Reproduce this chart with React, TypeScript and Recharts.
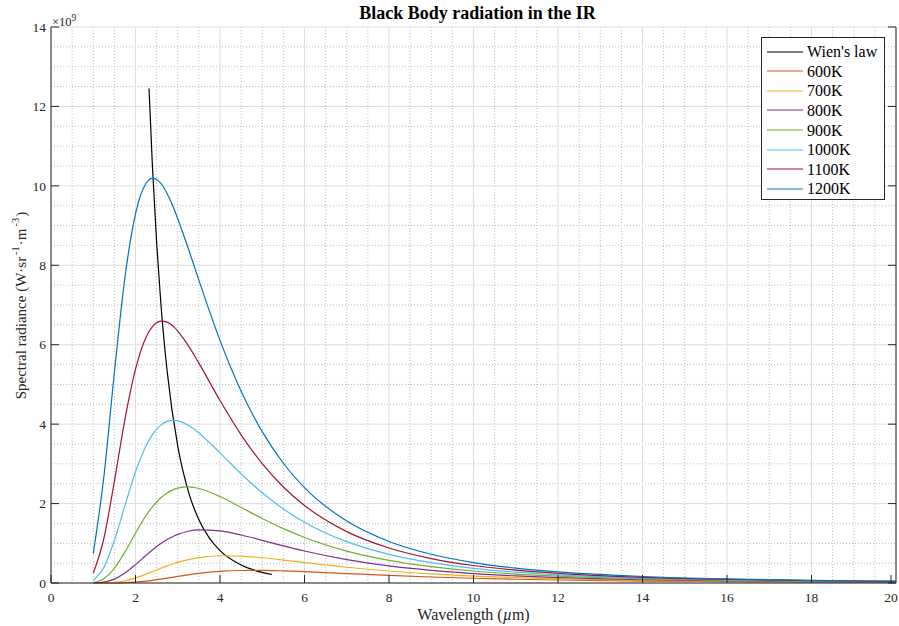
import React from "react";
import { LineChart, Line, XAxis, YAxis, CartesianGrid, Legend, ReferenceLine } from "recharts";

// wavelength in micrometres, radiance in units of 1e9 W·sr^-1·m^-3
const wavelengths = [1, 1.25, 1.5, 1.75, 2, 2.25, 2.4, 2.5, 2.6, 2.75, 2.9, 3, 3.25, 3.5, 4, 4.5, 5, 5.5, 6, 7, 8, 9, 10, 11, 12, 14, 16, 18, 20];

const k600 = [0.0, 0.0002, 0.0018, 0.0081, 0.0231, 0.0486, 0.0684, 0.0833, 0.099, 0.1237, 0.1489, 0.1656, 0.2054, 0.2403, 0.2905, 0.3145, 0.3175, 0.3062, 0.2867, 0.2382, 0.191, 0.151, 0.1191, 0.0943, 0.0751, 0.0487, 0.0327, 0.0226, 0.0161];
const k700 = [0.0001, 0.0028, 0.0176, 0.0575, 0.1281, 0.2226, 0.2855, 0.3277, 0.37, 0.4302, 0.4855, 0.5193, 0.59, 0.6401, 0.6861, 0.677, 0.6352, 0.5775, 0.515, 0.3971, 0.3015, 0.2288, 0.1749, 0.135, 0.1053, 0.0663, 0.0435, 0.0296, 0.0207];
const k800 = [0.0018, 0.022, 0.0973, 0.2497, 0.4625, 0.698, 0.8327, 0.9167, 0.9941, 1.0955, 1.1789, 1.224, 1.3027, 1.3377, 1.3118, 1.2082, 1.0739, 0.9347, 0.8048, 0.5877, 0.4292, 0.3163, 0.2363, 0.1791, 0.1377, 0.0847, 0.0547, 0.0367, 0.0255];
const k900 = [0.0136, 0.1088, 0.3688, 0.7823, 1.257, 1.697, 1.9169, 2.04, 2.1453, 2.269, 2.3524, 2.388, 2.418, 2.3786, 2.1767, 1.9033, 1.624, 1.368, 1.1467, 0.8039, 0.57, 0.411, 0.3018, 0.2256, 0.1716, 0.1038, 0.0662, 0.0441, 0.0304];
const k1000 = [0.0672, 0.3914, 1.0707, 1.95, 2.7976, 3.455, 3.7355, 3.874, 3.976, 4.068, 4.0955, 4.083, 3.973, 3.779, 3.277, 2.75, 2.2722, 1.866, 1.5318, 1.0405, 0.7212, 0.5111, 0.3704, 0.274, 0.2066, 0.1234, 0.0779, 0.0515, 0.0353];
const k1100 = [0.2485, 1.114, 2.561, 4.122, 5.384, 6.191, 6.454, 6.551, 6.592, 6.569, 6.456, 6.344, 5.977, 5.536, 4.595, 3.7315, 3.0055, 2.4183, 1.9526, 1.2932, 0.8803, 0.6154, 0.4413, 0.3237, 0.2424, 0.1433, 0.0898, 0.059, 0.0403];
const k1200 = [0.739, 2.664, 5.3, 7.689, 9.295, 10.065, 10.187, 10.161, 10.06, 9.802, 9.448, 9.173, 8.423, 7.625, 6.1095, 4.831, 3.8104, 3.0155, 2.4026, 1.5592, 1.0457, 0.7231, 0.5141, 0.3746, 0.2789, 0.1634, 0.1018, 0.0666, 0.0453];

// peak positions (Wien's displacement law)
const wienLambda = [2.32, 2.4, 2.5, 2.6, 2.75, 3, 3.25, 3.5, 3.75, 4, 4.5, 5, 5.23];
const wienPeak = [12.45, 10.51, 8.571, 7.045, 5.322, 3.444, 2.308, 1.594, 1.129, 0.817, 0.454, 0.268, 0.214];

const xTicks = [0, 2, 4, 6, 8, 10, 12, 14, 16, 18, 20];
const yTicks = [0, 2, 4, 6, 8, 10, 12, 14];

const series = [
    { key: "k600", name: "600K", color: "#D95319", values: k600 },
    { key: "k700", name: "700K", color: "#EDB120", values: k700 },
    { key: "k800", name: "800K", color: "#7E2F8E", values: k800 },
    { key: "k900", name: "900K", color: "#77AC30", values: k900 },
    { key: "k1000", name: "1000K", color: "#4DBEEE", values: k1000 },
    { key: "k1100", name: "1100K", color: "#A2142F", values: k1100 },
    { key: "k1200", name: "1200K", color: "#0072BD", values: k1200 },
];
const legendOrder = ["Wien's law", ...series.map((s) => s.name)];

const rows = wavelengths.map((x, i) => {
    const row: Record<string, number> = { x };
    series.forEach((s) => {
        row[s.key] = s.values[i];
    });
    return row;
});
const wienRows = wienLambda.map((x, i) => ({ x, wien: wienPeak[i] }));

const FONT = "'Liberation Serif', 'Times New Roman', serif";
const AXIS = "#262626";
const TICK_LEN = 8;
const TICK_FONT = 13.5;
const CHART_W = 899;
const MARGIN_RIGHT = 3;
const PLOT_RIGHT = CHART_W - MARGIN_RIGHT;

const BottomTick = (props: any) => {
    const { x, y, payload } = props;
    return (
        <g>
            <line x1={x} x2={x} y1={y - 8} y2={y - 8 - TICK_LEN} stroke={AXIS} />
            <text x={x} y={y} dy="0.78em" textAnchor="middle" fill={AXIS} fontSize={TICK_FONT} fontFamily={FONT}>
                {payload.value}
            </text>
        </g>
    );
};

// left labels + inward ticks on both the left and the right edge
const LeftTick = (props: any) => {
    const { x, y, payload } = props;
    return (
        <g>
            <line x1={x + 5} x2={x + 5 + TICK_LEN} y1={y} y2={y} stroke={AXIS} />
            <line x1={PLOT_RIGHT} x2={PLOT_RIGHT - TICK_LEN} y1={y} y2={y} stroke={AXIS} />
            <text x={x} y={y} dy="0.35em" textAnchor="end" fill={AXIS} fontSize={TICK_FONT} fontFamily={FONT}>
                {payload.value}
            </text>
        </g>
    );
};

const TopTick = (props: any) => {
    const { x, y } = props;
    return <line x1={x} x2={x} y1={y} y2={y + TICK_LEN} stroke={AXIS} />;
};

// minor grid every 0.5 units, skipping the major lines
const minorX = ({ offset }: any) => {
    const out: number[] = [];
    for (let k = 1; k < 40; k++) if (k % 4 !== 0) out.push(offset.left + (offset.width * k) / 40);
    return out;
};
const minorY = ({ offset }: any) => {
    const out: number[] = [];
    for (let k = 1; k < 28; k++) if (k % 4 !== 0) out.push(offset.top + (offset.height * k) / 28);
    return out;
};

const renderLegend = (props: any) => {
    const items = [...(props.payload || [])].sort(
        (a: any, b: any) => legendOrder.indexOf(a.value) - legendOrder.indexOf(b.value)
    );
    return (
        <div
            style={{
                border: `1px solid ${AXIS}`,
                background: "#fff",
                padding: "4px 0 0 0",
                width: 122,
                height: 157,
                boxSizing: "content-box",
                fontFamily: FONT,
                fontSize: 16,
                color: "#000",
            }}
        >
            {items.map((entry: any) => (
                <div key={entry.value} style={{ display: "flex", alignItems: "center", height: 19.57 }}>
                    <svg width={45} height={6} style={{ flex: "none" }}>
                        <line x1={5} x2={41} y1={3} y2={3} stroke={entry.color} strokeWidth={1.2} />
                    </svg>
                    <span style={{ lineHeight: "19px" }}>{entry.value}</span>
                </div>
            ))}
        </div>
    );
};

const supStyle: React.CSSProperties = { fontSize: 10.5, verticalAlign: "7px", margin: "0 1px 0 2px" };

const App = () => {
    return (
        <div style={{ position: "absolute", left: 0, top: 0, width: 899, height: 626, background: "#fff", fontFamily: FONT }}>
            <LineChart width={CHART_W} height={626} data={rows} margin={{ top: 27, right: MARGIN_RIGHT, bottom: 13, left: 8 }}>
                <CartesianGrid
                    stroke="#bdbdbd"
                    strokeDasharray="1 2"
                    verticalCoordinatesGenerator={minorX}
                    horizontalCoordinatesGenerator={minorY}
                />
                <CartesianGrid stroke="#dedede" />
                <XAxis
                    dataKey="x"
                    type="number"
                    domain={[0, 20]}
                    ticks={xTicks}
                    height={30}
                    tickSize={0}
                    tickMargin={8}
                    tick={<BottomTick />}
                    axisLine={{ stroke: AXIS }}
                    tickLine={false}
                />
                <XAxis
                    xAxisId="top"
                    orientation="top"
                    dataKey="x"
                    type="number"
                    domain={[0, 20]}
                    ticks={xTicks}
                    height={0}
                    tickSize={0}
                    tickMargin={0}
                    tick={<TopTick />}
                    axisLine={{ stroke: AXIS }}
                    tickLine={false}
                />
                <YAxis
                    domain={[0, 14]}
                    ticks={yTicks}
                    width={43}
                    tickSize={0}
                    tickMargin={5}
                    tick={<LeftTick />}
                    axisLine={{ stroke: AXIS }}
                    tickLine={false}
                />
                <ReferenceLine x={20} stroke={AXIS} ifOverflow="visible" />
                <Line
                    data={wienRows}
                    dataKey="wien"
                    name="Wien's law"
                    type="monotone"
                    stroke="#000000"
                    strokeWidth={1.2}
                    dot={false}
                    activeDot={false}
                    isAnimationActive={false}
                />
                {series.map((s) => (
                    <Line
                        key={s.key}
                        dataKey={s.key}
                        name={s.name}
                        type="monotone"
                        stroke={s.color}
                        strokeWidth={1.2}
                        dot={false}
                        activeDot={false}
                        isAnimationActive={false}
                    />
                ))}
                <Legend
                    layout="vertical"
                    align="center"
                    verticalAlign="middle"
                    content={renderLegend}
                    wrapperStyle={{ position: "absolute", left: 761, top: 37, width: "auto", height: "auto" }}
                />
            </LineChart>

            {/* Title */}
            <div
                style={{
                    position: "absolute",
                    left: 55,
                    width: 845,
                    top: 4,
                    textAlign: "center",
                    fontWeight: "bold",
                    fontSize: 18,
                    color: "#000",
                    lineHeight: "18px",
                    whiteSpace: "nowrap",
                }}
            >
                Black Body radiation in the IR
            </div>

            {/* Exponent */}
            <div style={{ position: "absolute", left: 52, top: 11, fontSize: 12.5, color: AXIS, lineHeight: "14px", whiteSpace: "nowrap" }}>
                ×10<sup style={{ fontSize: 9.5, verticalAlign: "5px" }}>9</sup>
            </div>

            {/* X label */}
            <div
                style={{
                    position: "absolute",
                    left: 51,
                    width: 845,
                    top: 606,
                    textAlign: "center",
                    fontSize: 16,
                    color: AXIS,
                    lineHeight: "18px",
                }}
            >
                Wavelength (<i>µ</i>m)
            </div>

            {/* Y label */}
            <div
                style={{
                    position: "absolute",
                    left: 10,
                    top: 27,
                    width: 18,
                    height: 556,
                    display: "flex",
                    alignItems: "center",
                    justifyContent: "center",
                }}
            >
                <div
                    style={{
                        transform: "rotate(-90deg)",
                        whiteSpace: "nowrap",
                        fontSize: 15,
                        color: AXIS,
                        lineHeight: "18px",
                        flex: "none",
                    }}
                >
                    Spectral radiance (W·sr<sup style={supStyle}>-1</sup>·m<sup style={supStyle}>-3</sup>)
                </div>
            </div>
        </div>
    );
};

export default App;
